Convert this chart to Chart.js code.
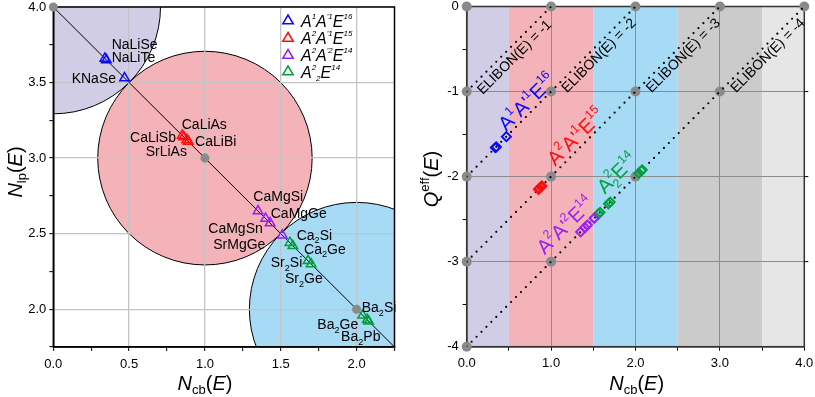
<!DOCTYPE html>
<html><head><meta charset="utf-8">
<script src="https://cdn.jsdelivr.net/npm/chart.js@4.4.1/dist/chart.umd.min.js"></script>
<style>
html,body{margin:0;padding:0;background:#fff;}
#wrap{position:relative;width:815px;height:397px;overflow:hidden;background:#fff;}
canvas{position:absolute;top:0;}
</style></head><body>
<div id="wrap">
<canvas id="c1" width="410" height="397" style="left:0;width:410px;height:397px"></canvas>
<canvas id="c2" width="405" height="397" style="left:410px;width:405px;height:397px"></canvas>
</div>
<script>
const FONT = '"Liberation Sans", Arial, sans-serif';

// ---------------- data ----------------
// A1A'1E16 : NaLiSe, NaLiTe, KNaSe
const ncbA1A1 = [0.34, 0.35, 0.47];
const nlpA1A1 = [3.66, 3.65, 3.53];
const qA1A1   = [-1.66, -1.65, -1.53];
// A2A'1E15 : CaLiAs, CaLiSb, SrLiAs, CaLiBi
const ncbA2A1 = [0.85, 0.86, 0.88, 0.89];
const nlpA2A1 = [3.15, 3.14, 3.12, 3.11];
const qA2A1   = [-2.15, -2.14, -2.12, -2.11];
// A2A'2E14 : CaMgSi, CaMgGe, CaMgSn, SrMgGe
const ncbA2A2 = [1.35, 1.40, 1.43, 1.51];
const nlpA2A2 = [2.65, 2.60, 2.57, 2.49];
const qA2A2   = [-2.65, -2.60, -2.57, -2.49];
// A2_2E14 : Ca2Si, Ca2Ge, Sr2Si, Sr2Ge, Ba2Si, Ba2Ge, Ba2Pb
const ncbA22 = [1.56, 1.58, 1.68, 1.70, 2.04, 2.07, 2.08];
const nlpA22 = [2.44, 2.42, 2.32, 2.30, 1.96, 1.93, 1.92];
const qA22   = [-2.44, -2.42, -2.32, -2.30, -1.96, -1.93, -1.92];

// left chart reference geometry
const circleNcb = [0, 1, 2];
const circleNlp = [4, 3, 2];
const circleRad = [0.707, 0.707, 0.707];
const diagNcb = [0, 2.25];
const diagNlp = [4, 1.75];
const refNcb = [0, 1, 2];
const refNlp = [4, 3, 2];

// right chart reference geometry
const bandEdges = [0, 0.5, 1.5, 2.5, 3.5, 4.0];
const elibonValues = [-1, -2, -3, -4];
const elibonNcb = [[0, 1], [0, 2], [0, 3], [0, 4]];
const elibonQ   = [[-1, 0], [-2, 0], [-3, 0], [-4, 0]];
const latticeNcb = [0, 1, 2, 3, 4, 0, 1, 2, 3, 0, 1, 2, 0, 1, 0];
const latticeQ   = [0, 0, 0, 0, 0, -1, -1, -1, -1, -2, -2, -2, -3, -3, -4];

// tick labels
const leftXTickLabels = ['0.0', '0.5', '1.0', '1.5', '2.0'];
const leftYTickLabels = ['2.0', '2.5', '3.0', '3.5', '4.0'];
const rightXTickLabels = ['0.0', '1.0', '2.0', '3.0', '4.0'];
const rightYTickLabels = ['-4', '-3', '-2', '-1', '0'];

// legend / series names
const seriesNames = ["A^1A^{'1}E^{16}", "A^2A^{'1}E^{15}", "A^2A^{'2}E^{14}", "A^2_2E^{14}"];
const seriesLabelsRight = ["A^1A'^1E^{16}", "A^2A'^1E^{15}", "A^2A'^2E^{14}", "A^2_2E^{14}"];

// ---------------- styles / annotation positions ----------------
const COLORS = ['#0a0aff', '#ff0d0d', '#9a1ef5', '#00a03c'];
const circleColors = ['#d1cde6', '#f4b3b8', '#a7daf5'];
const bandColors = ['#d1cde6', '#f4b3b8', '#a7daf5', '#cbcbcb', '#e6e6e6'];
const GRAY = '#8a8a8a';

const compoundLabels = [
  ['NaLiSe', 0.385, 3.758], ['NaLiTe', 0.385, 3.669], ['KNaSe', 0.121, 3.532],
  ['CaLiAs', 0.847, 3.228], ['CaLiSb', 0.506, 3.139], ['CaLiBi', 0.935, 3.112], ['SrLiAs', 0.609, 3.046],
  ['CaMgSi', 1.319, 2.746], ['CaMgGe', 1.434, 2.636], ['CaMgSn', 1.022, 2.539], ['SrMgGe', 1.055, 2.433],
  ['Ca_2Si', 1.605, 2.493], ['Ca_2Ge', 1.654, 2.400], ['Sr_2Si', 1.434, 2.311], ['Sr_2Ge', 1.528, 2.205],
  ['Ba_2Si', 2.034, 2.013], ['Ba_2Ge', 1.741, 1.899], ['Ba_2Pb', 1.898, 1.821]
];
const elibonLabelPos = [[0.56, -0.59], [1.56, -0.57], [2.56, -0.57], [3.56, -0.57]];
const seriesLabelPos = [[0.71, -1.12], [1.29, -1.53], [1.165, -2.57], [1.777, -1.957]];

// ---------------- rich text helpers ----------------
function parseRich(s) {
  const segs = []; let i = 0, buf = '';
  while (i < s.length) {
    const c = s[i];
    if (c === '_' || c === '^') {
      if (buf) { segs.push({t: buf, k: 'n'}); buf = ''; }
      let t;
      if (s[i + 1] === '{') { const j = s.indexOf('}', i); t = s.slice(i + 2, j); i = j + 1; }
      else { t = s[i + 1]; i += 2; }
      segs.push({t, k: c === '_' ? 'sub' : 'sup'});
    } else { buf += c; i++; }
  }
  if (buf) segs.push({t: buf, k: 'n'});
  return segs;
}
function fontStr(size, it) { return (it ? 'italic ' : '') + size + 'px ' + FONT; }
function layoutRich(ctx, segs, o) {
  const F = o.size, sS = F * (o.supScale || 0.62);
  let w = 0; const items = [];
  for (let n = 0; n < segs.length; n++) {
    const s = segs[n];
    const it = s.i !== undefined ? s.i : !!o.italic;
    if (s.k === 'n') {
      ctx.font = fontStr(F, it);
      items.push({t: s.t, x: w, dy: 0, f: ctx.font});
      w += ctx.measureText(s.t).width;
    } else {
      ctx.font = fontStr(sS, it);
      const ww = ctx.measureText(s.t).width;
      const dyUp = -F * (o.supRaise || 0.42), dyDn = F * (o.subDrop || 0.22);
      items.push({t: s.t, x: w, dy: s.k === 'sup' ? dyUp : dyDn, f: ctx.font});
      if (o.stack && s.k === 'sup' && segs[n + 1] && segs[n + 1].k === 'sub') {
        const w2 = ctx.measureText(segs[n + 1].t).width;
        items.push({t: segs[n + 1].t, x: w, dy: dyDn, f: ctx.font});
        w += Math.max(ww, w2); n++;
      } else w += ww;
    }
  }
  return {items, w};
}
function drawRich(ctx, segs, x, y, o) {
  ctx.save();
  ctx.translate(x, y);
  if (o.rot) ctx.rotate(o.rot);
  const L = layoutRich(ctx, segs, o);
  const x0 = o.align === 'center' ? -L.w / 2 : o.align === 'right' ? -L.w : 0;
  ctx.fillStyle = o.color || '#000';
  ctx.textBaseline = 'alphabetic'; ctx.textAlign = 'left';
  const by = o.dy || 0;
  L.items.forEach(it => { ctx.font = it.f; ctx.fillText(it.t, x0 + it.x, by + it.dy); });
  ctx.restore();
}

function pts(xs, ys) { return xs.map((v, i) => ({x: v, y: ys[i]})); }
const isHalf = v => Math.abs(v * 2 - Math.round(v * 2)) < 1e-6;
const isInt = v => Math.abs(v - Math.round(v)) < 1e-6;

// ---------------- left chart ----------------
const leftPlugin = {
  id: 'leftPlugin',
  beforeDraw(chart) {
    const {ctx, chartArea: a, scales: {x, y}} = chart;
    ctx.save();
    ctx.beginPath(); ctx.rect(a.left, a.top, a.right - a.left, a.bottom - a.top); ctx.clip();
    circleNcb.forEach((cx, i) => {
      const px = x.getPixelForValue(cx), py = y.getPixelForValue(circleNlp[i]);
      const rx = Math.abs(x.getPixelForValue(cx + circleRad[i]) - px);
      const ry = Math.abs(y.getPixelForValue(circleNlp[i] + circleRad[i]) - py);
      ctx.beginPath(); ctx.ellipse(px, py, rx, ry, 0, 0, Math.PI * 2);
      ctx.fillStyle = circleColors[i]; ctx.fill();
      ctx.lineWidth = 1; ctx.strokeStyle = '#000'; ctx.stroke();
    });
    ctx.restore();
  },
  beforeDatasetsDraw(chart) {
    const {ctx, chartArea: a} = chart;
    ctx.save();
    ctx.strokeStyle = '#000'; ctx.lineWidth = 1.5;
    ctx.strokeRect(a.left, a.top, a.right - a.left, a.bottom - a.top);
    ctx.restore();
  },
  afterDraw(chart) {
    const {ctx, scales: {x, y}} = chart;
    // compound labels
    compoundLabels.forEach(([t, lx, ly]) => {
      drawRich(ctx, parseRich(t), x.getPixelForValue(lx), y.getPixelForValue(ly) + 5,
        {size: 14, color: '#000', supScale: 0.65, subDrop: 0.25});
    });
    // legend
    const rows = [20.5, 38, 55, 71.5];
    rows.forEach((ry, i) => {
      const cx = 288, r = 5.5;
      ctx.save();
      ctx.beginPath();
      ctx.moveTo(cx, ry - r);
      ctx.lineTo(cx + r * 0.95, ry + r * 0.6);
      ctx.lineTo(cx - r * 0.95, ry + r * 0.6);
      ctx.closePath();
      ctx.strokeStyle = COLORS[i]; ctx.lineWidth = 1.5; ctx.stroke();
      ctx.restore();
      drawRich(ctx, parseRich(seriesNames[i]), 301, ry + 6,
        {size: 16, italic: true, color: '#000', supScale: 0.5, supRaise: 0.5, subDrop: 0.2});
    });
    // axis titles
    const tX = [{t: 'N', k: 'n', i: true}, {t: 'cb', k: 'sub', i: false}, {t: '(', k: 'n', i: false}, {t: 'E', k: 'n', i: true}, {t: ')', k: 'n', i: false}];
    drawRich(ctx, tX, 205, 390, {size: 20, align: 'center', supScale: 0.65, subDrop: 0.22});
    const tY = [{t: 'N', k: 'n', i: true}, {t: 'lp', k: 'sub', i: false}, {t: '(', k: 'n', i: false}, {t: 'E', k: 'n', i: true}, {t: ')', k: 'n', i: false}];
    drawRich(ctx, tY, 22, 172, {size: 20, align: 'center', rot: -Math.PI / 2, supScale: 0.65, subDrop: 0.22});
  }
};

const tickFont = {size: 13, family: FONT};

new Chart(document.getElementById('c1'), {
  type: 'scatter',
  data: {
    datasets: [
      {data: pts(ncbA1A1, nlpA1A1), pointStyle: 'triangle', pointRadius: 5.5, borderColor: COLORS[0], backgroundColor: 'rgba(0,0,0,0)', borderWidth: 1.5, order: 1},
      {data: pts(ncbA2A1, nlpA2A1), pointStyle: 'triangle', pointRadius: 5.5, borderColor: COLORS[1], backgroundColor: 'rgba(0,0,0,0)', borderWidth: 1.5, order: 1},
      {data: pts(ncbA2A2, nlpA2A2), pointStyle: 'triangle', pointRadius: 5.5, borderColor: COLORS[2], backgroundColor: 'rgba(0,0,0,0)', borderWidth: 1.5, order: 1},
      {data: pts(ncbA22, nlpA22), pointStyle: 'triangle', pointRadius: 5.5, borderColor: COLORS[3], backgroundColor: 'rgba(0,0,0,0)', borderWidth: 1.5, order: 1},
      {data: pts(refNcb, refNlp), pointRadius: 4.5, backgroundColor: GRAY, borderColor: GRAY, borderWidth: 0, clip: false, order: 3},
      {data: pts(diagNcb, diagNlp), showLine: true, borderColor: '#000', borderWidth: 1, pointRadius: 0, order: 4}
    ]
  },
  options: {
    responsive: false, animation: false, events: [],
    layout: {padding: {left: 0, top: 7, right: 15.5, bottom: 0}},
    plugins: {legend: {display: false}, tooltip: {enabled: false}},
    scales: {
      x: {
        type: 'linear', min: 0, max: 2.25,
        ticks: {stepSize: 0.25, autoSkip: false, maxRotation: 0, color: '#000', font: tickFont, padding: 6,
          callback: v => isHalf(v) ? leftXTickLabels[Math.round(v * 2)] : ''},
        grid: {color: c => (c.tick && isHalf(c.tick.value)) ? '#c4c4c4' : 'rgba(0,0,0,0)', lineWidth: 1.3, tickColor: '#000', tickLength: 4, tickWidth: 1},
        border: {display: true, color: '#000', width: 1.5},
        afterFit: s => { s.height = 50; s.paddingLeft = 0; s.paddingRight = 0; }
      },
      y: {
        type: 'linear', min: 1.75, max: 4.0,
        ticks: {stepSize: 0.25, autoSkip: false, color: '#000', font: tickFont, padding: 3,
          callback: v => isHalf(v) ? leftYTickLabels[Math.round((v - 2) * 2)] : ''},
        grid: {color: c => (c.tick && isHalf(c.tick.value)) ? '#c4c4c4' : 'rgba(0,0,0,0)', lineWidth: 1.3, tickColor: '#000', tickLength: 4, tickWidth: 1},
        border: {display: true, color: '#000', width: 1.5},
        afterFit: s => { s.width = 53.3; s.paddingTop = 0; s.paddingBottom = 0; }
      }
    }
  },
  plugins: [leftPlugin]
});

// ---------------- right chart ----------------
const rightPlugin = {
  id: 'rightPlugin',
  beforeDraw(chart) {
    const {ctx, chartArea: a, scales: {x}} = chart;
    ctx.save();
    for (let i = 0; i < bandColors.length; i++) {
      const x0 = x.getPixelForValue(bandEdges[i]), x1 = x.getPixelForValue(bandEdges[i + 1]);
      ctx.fillStyle = bandColors[i];
      ctx.fillRect(x0, a.top, x1 - x0, a.bottom - a.top);
    }
    ctx.restore();
  },
  beforeDatasetsDraw(chart) {
    const {ctx, chartArea: a, scales: {y}} = chart;
    ctx.save();
    ctx.strokeStyle = '#333'; ctx.lineWidth = 1.5;
    ctx.strokeRect(a.left, a.top, a.right - a.left, a.bottom - a.top);
    ctx.lineWidth = 1; ctx.strokeStyle = '#000';
    [-1, -2, -3].forEach(v => {
      const py = y.getPixelForValue(v);
      ctx.beginPath(); ctx.moveTo(a.right, py); ctx.lineTo(a.right + 4, py); ctx.stroke();
    });
    ctx.restore();
  },
  afterDraw(chart) {
    const {ctx, scales: {x, y}} = chart;
    elibonValues.forEach((v, i) => {
      const [lx, ly] = elibonLabelPos[i];
      drawRich(ctx, [{t: 'ELIBON(E) = ' + v, k: 'n'}], x.getPixelForValue(lx), y.getPixelForValue(ly),
        {size: 14, align: 'center', rot: -Math.PI / 4, dy: 5, color: '#000'});
    });
    seriesLabelsRight.forEach((s, i) => {
      const [lx, ly] = seriesLabelPos[i];
      drawRich(ctx, parseRich(s), x.getPixelForValue(lx), y.getPixelForValue(ly),
        {size: 20, align: 'center', rot: -Math.PI / 4, dy: 7, color: COLORS[i], stack: true, supScale: 0.62, supRaise: 0.45, subDrop: 0.25});
    });
    const tX = [{t: 'N', k: 'n', i: true}, {t: 'cb', k: 'sub', i: false}, {t: '(', k: 'n', i: false}, {t: 'E', k: 'n', i: true}, {t: ')', k: 'n', i: false}];
    drawRich(ctx, tX, 226.7, 390, {size: 20, align: 'center', supScale: 0.65, subDrop: 0.22});
    const tY = [{t: 'Q', k: 'n', i: true}, {t: 'eff', k: 'sup', i: false}, {t: '(', k: 'n', i: false}, {t: 'E', k: 'n', i: true}, {t: ')', k: 'n', i: false}];
    drawRich(ctx, tY, 28, 179, {size: 20, align: 'center', rot: -Math.PI / 2, supScale: 0.65, supRaise: 0.45});
  }
};

const rightDatasets = [
  {data: pts(ncbA1A1, qA1A1), pointStyle: 'rectRot', pointRadius: 4.5, borderColor: COLORS[0], backgroundColor: 'rgba(0,0,0,0)', borderWidth: 2, order: 1},
  {data: pts(ncbA2A1, qA2A1), pointStyle: 'rectRot', pointRadius: 4.5, borderColor: COLORS[1], backgroundColor: 'rgba(0,0,0,0)', borderWidth: 2, order: 1},
  {data: pts(ncbA2A2, qA2A2), pointStyle: 'rectRot', pointRadius: 4.5, borderColor: COLORS[2], backgroundColor: 'rgba(0,0,0,0)', borderWidth: 2, order: 1},
  {data: pts(ncbA22, qA22), pointStyle: 'rectRot', pointRadius: 4.5, borderColor: COLORS[3], backgroundColor: 'rgba(0,0,0,0)', borderWidth: 2, order: 1},
  {data: pts(latticeNcb, latticeQ), pointRadius: 5, backgroundColor: GRAY, borderColor: GRAY, borderWidth: 0, clip: false, order: 3}
];
elibonNcb.forEach((xs, i) => {
  rightDatasets.push({data: pts(xs, elibonQ[i]), showLine: true, borderColor: '#000', borderWidth: 2.2,
    borderDash: [0, 7], borderCapStyle: 'round', pointRadius: 0, order: 2});
});

new Chart(document.getElementById('c2'), {
  type: 'scatter',
  data: {datasets: rightDatasets},
  options: {
    responsive: false, animation: false, events: [],
    layout: {padding: {left: 0, top: 5.7, right: 10.7, bottom: 0}},
    plugins: {legend: {display: false}, tooltip: {enabled: false}},
    scales: {
      x: {
        type: 'linear', min: 0, max: 4,
        ticks: {stepSize: 0.5, autoSkip: false, maxRotation: 0, color: '#000', font: tickFont, padding: 5,
          callback: v => isInt(v) ? rightXTickLabels[Math.round(v)] : ''},
        grid: {color: c => (c.tick && isInt(c.tick.value)) ? '#8c8c8c' : 'rgba(0,0,0,0)', lineWidth: 1, tickColor: '#000', tickLength: 4, tickWidth: 1},
        border: {display: true, color: '#333', width: 1.5},
        afterFit: s => { s.height = 50.3; s.paddingLeft = 0; s.paddingRight = 0; }
      },
      y: {
        type: 'linear', min: -4, max: 0,
        ticks: {stepSize: 0.5, autoSkip: false, color: '#000', font: tickFont, padding: 4,
          callback: v => isInt(v) ? rightYTickLabels[Math.round(v) + 4] : ''},
        grid: {color: c => (c.tick && isInt(c.tick.value)) ? '#8c8c8c' : 'rgba(0,0,0,0)', lineWidth: 1, tickColor: '#000', tickLength: 4, tickWidth: 1},
        border: {display: true, color: '#333', width: 1.5},
        afterFit: s => { s.width = 56.7; s.paddingTop = 0; s.paddingBottom = 0; }
      }
    }
  },
  plugins: [rightPlugin]
});
</script>
</body></html>
